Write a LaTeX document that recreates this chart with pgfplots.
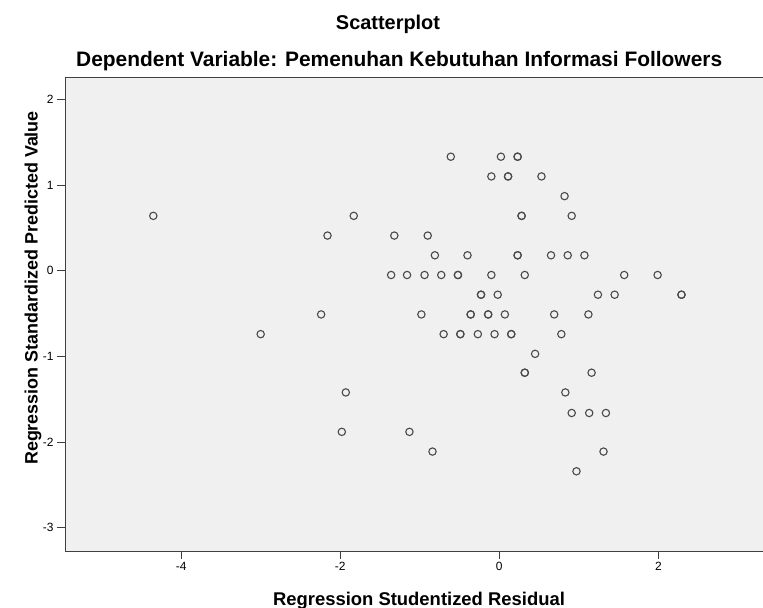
\documentclass[border=0pt]{standalone}
\usepackage{fontspec}
\setmainfont{Liberation Sans}
\usepackage{pgfplots}
\pgfplotsset{compat=1.18}
\definecolor{plotbg}{HTML}{F0F0F0}
\definecolor{markgray}{HTML}{4A4A4A}

\begin{document}
\begin{tikzpicture}
\path[use as bounding box] (-65bp,-57bp) rectangle (698bp,551bp);
\begin{axis}[
    scale only axis,
    width=698bp, height=474bp,
    xmin=-5.46, xmax=3.315,
    ymin=-3.27, ymax=2.26,
    xtick={-4,-2,0,2},
    ytick={-3,-2,-1,0,1,2},
    axis lines*=left,
    axis line style={black!75, line width=0.9pt, -},
    axis background/.style={fill=plotbg},
    tick align=outside,
    major tick length=8bp,
    tick style={black!75, line width=0.8pt},
    ticklabel style={font=\fontsize{12}{14}\selectfont},
    /pgf/number format/assume math mode=true,
    clip=false,
]
\addplot[only marks, mark=o, mark size=3.7pt, mark options={draw=markgray, line width=1.1pt}]
coordinates {
    (-4.35, 0.64) (-1.83, 0.64) (-2.16, 0.41) (-1.32, 0.41)
    (-1.36,-0.05) (-1.16,-0.05) (-2.24,-0.51) (-3.00,-0.74)
    (-1.93,-1.42) (-1.98,-1.88) (-1.13,-1.88)
    (-0.61, 1.33) (0.02, 1.33) (0.23, 1.33) (0.23, 1.33)
    (-0.10, 1.10) (0.11, 1.10) (0.11, 1.10) (0.53, 1.10)
    (0.82, 0.87)
    (0.28, 0.64) (0.28, 0.64) (0.91, 0.64)
    (-0.90, 0.41)
    (-0.81, 0.18) (-0.40, 0.18) (0.23, 0.18) (0.23, 0.18) (0.65, 0.18) (0.86, 0.18) (1.07, 0.18)
    (-0.94,-0.05) (-0.73,-0.05) (-0.52,-0.05) (-0.52,-0.05) (-0.10,-0.05) (0.32,-0.05) (1.57,-0.05) (1.99,-0.05)
    (-0.23,-0.28) (-0.23,-0.28) (-0.02,-0.28) (1.24,-0.28) (1.45,-0.28) (2.29,-0.28) (2.29,-0.28)
    (-0.98,-0.51) (-0.36,-0.51) (-0.36,-0.51) (-0.14,-0.51) (-0.14,-0.51) (0.07,-0.51) (0.69,-0.51) (1.12,-0.51)
    (-0.70,-0.74) (-0.49,-0.74) (-0.49,-0.74) (-0.27,-0.74) (-0.06,-0.74) (0.15,-0.74) (0.15,-0.74) (0.78,-0.74)
    (0.45,-0.97)
    (0.32,-1.19) (0.32,-1.19) (1.16,-1.19)
    (0.83,-1.42)
    (0.91,-1.66) (1.13,-1.66) (1.34,-1.66)
    (-0.84,-2.11) (1.31,-2.11)
    (0.97,-2.34)
};
% top frame line (the right one is cut off in the reference)
\draw[black!75, line width=0.9pt] (rel axis cs:0,1) -- (rel axis cs:1,1);
\end{axis}
\node[font=\bfseries\fontsize{20}{24}\selectfont, anchor=base, inner sep=0pt] at (323bp,521bp) {Scatterplot};
\node[font=\bfseries\fontsize{21}{25}\selectfont, anchor=base west, inner sep=0pt] at (11bp,484bp)
    {Dependent Variable: Pemenuhan Kebutuhan Informasi Followers};
\node[font=\bfseries\fontsize{18.5}{22}\selectfont, anchor=base, inner sep=0pt] at (354bp,-54bp) {Regression Studentized Residual};
\node[font=\bfseries\fontsize{18}{22}\selectfont, rotate=90, inner sep=0pt] at (-32bp,263bp) {Regression Standardized Predicted Value};
\end{tikzpicture}
\end{document}
